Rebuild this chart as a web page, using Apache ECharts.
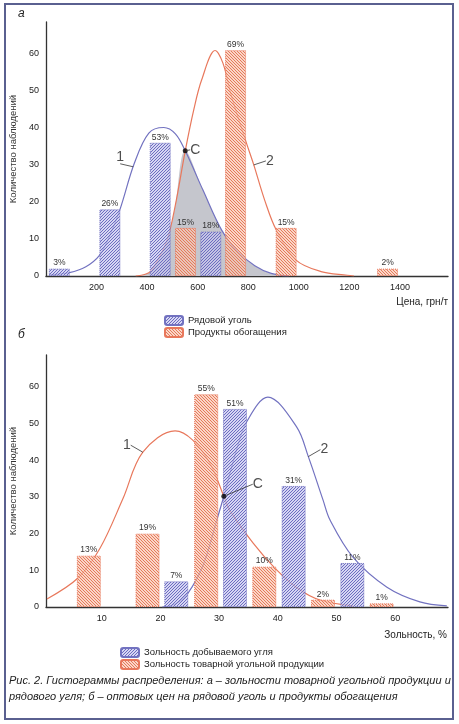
<!DOCTYPE html>
<html>
<head>
<meta charset="utf-8">
<script src="https://cdn.jsdelivr.net/npm/echarts@6/dist/echarts.min.js"></script>
<style>
html,body{margin:0;padding:0;background:#fff;}
#c{width:459px;height:724px;}
</style>
</head>
<body>
<div id="c"></div>
<script>
// ---------- DATA ----------
const countTicks = [0, 10, 20, 30, 40, 50, 60];
const priceTicks = [200, 400, 600, 800, 1000, 1200, 1400];
const ashTicks = [10, 20, 30, 40, 50, 60];

// chart a (price)
const rawPriceX = [53, 253, 452, 652];
const rawPriceCount = [2, 18, 36, 12];
const rawPricePct = ['3%', '26%', '53%', '18%'];
const prodPriceX = [552, 750, 950, 1351];
const prodPriceCount = [13, 61, 13, 2];
const prodPricePct = ['15%', '69%', '15%', '2%'];
const rawPriceCurve = [[14,0.3],[93,0.9],[158,2.5],[211,5.5],[250,10.5],[293,18],[350,30.5],[407,38.6],[466,40.1],[512,38.4],[551,33.8],[621,23.2],[695,12.4],[760,6.5],[826,2.8],[891,0.7],[960,0]];
const prodPriceCurve = [[355,0],[407,0.9],[433,3.2],[479,9.7],[510,18.5],[551,33.8],[585,45],[616,53],[669,60.9],[700,57.5],[734,48.5],[793,35.9],[822,30],[865,20.5],[911,12.4],[989,4.3],[1088,1.2],[1192,0.2],[1218,0]];
const priceCrossC = [551, 33.8];
const priceMark1 = [345, 29.5];
const priceMark2 = [822, 30];

// chart б (ash)
const ashMinedX = [22.7, 32.7, 42.7, 52.7];
const ashMinedCount = [7, 54, 33, 12];
const ashMinedPct = ['7%', '51%', '31%', '11%'];
const ashProdX = [7.8, 17.8, 27.8, 37.7, 47.7, 57.7];
const ashProdCount = [14, 20, 58, 11, 2, 1];
const ashProdPct = ['13%', '19%', '55%', '10%', '2%', '1%'];
const ashProdCurve = [[0.67,2.2],[5.95,7.9],[9.7,16],[13.6,29.5],[17.0,42.2],[22.5,48],[25.5,45.5],[28.5,39],[30.8,30.2],[31.8,26.4],[35.8,17.4],[39.5,10.6],[43.3,5.2],[47.2,1.9],[52.8,0.3]];
const ashMinedCurve = [[20.3,0],[22.5,0.8],[24.7,3.8],[27.3,11.5],[29.6,23.7],[30.8,30.2],[33,43],[34.7,50.5],[38.3,57.2],[43.2,49.1],[45.2,41],[47.7,29.2],[48.9,23.7],[52.8,13.6],[58.6,5.4],[64.2,1.4],[68.8,0.3]];
const ashCrossC = [30.8, 30.2];
const ashMark1 = [17.0, 42.2];
const ashMark2 = [45.2, 41];

// ---------- STYLE HELPERS ----------
function hatch(bg, fg, dir) {
  const c = document.createElement('canvas');
  c.width = 3; c.height = 3;
  const g = c.getContext('2d');
  g.fillStyle = bg; g.fillRect(0, 0, 3, 3);
  g.fillStyle = fg;
  for (let i = 0; i < 3; i++) g.fillRect(i, dir > 0 ? 2 - i : i, 1, 1);
  return { image: c, repeat: 'repeat' };
}
const BLUE = '#7272c0';
const RED = '#e8785c';
const blueFill = hatch('rgba(196,196,238,0.7)', '#6c6cc0', 1);
const redFill = hatch('rgba(248,196,176,0.7)', '#e57a5a', -1);
const FONT = 'Liberation Sans, Arial, sans-serif';

const overlap = prodPriceCurve.filter(p => p[0] <= priceCrossC[0]).concat(rawPriceCurve.filter(p => p[0] > priceCrossC[0]));

function barSeries(name, xs, ys, pct, xi, color, fill, bw) {
  return {
    name, type: 'bar', xAxisIndex: xi, yAxisIndex: xi, barWidth: bw, barGap: '-100%', z: 3,
    data: xs.map((x, i) => [x, ys[i]]),
    itemStyle: { color: fill, borderColor: color, borderWidth: 1, borderType: 'dotted' },
    label: { show: true, position: 'top', distance: 1, fontSize: 8.5, color: '#333', fontFamily: FONT,
      formatter: p => pct[p.dataIndex] }
  };
}
function curveSeries(name, data, xi, color) {
  return { name, type: 'line', xAxisIndex: xi, yAxisIndex: xi, data, smooth: 0.35, showSymbol: false, z: 2,
    lineStyle: { color, width: 1.2 }, silent: true };
}
function markSeries(name, pt, xi, text, dx, dy, dot) {
  return {
    name, type: 'scatter', xAxisIndex: xi, yAxisIndex: xi, data: [pt], z: 5,
    symbol: 'circle', symbolSize: dot ? 5 : 0.5, itemStyle: { color: '#000' },
    label: { show: true, position: 'inside', formatter: text, fontSize: 14, color: '#222', fontFamily: FONT },
    labelLayout: { dx, dy },
    labelLine: { show: true, lineStyle: { color: '#333', width: 0.8 } }
  };
}
function yAxis(gi, max) {
  return {
    gridIndex: gi, type: 'value', min: 0, max,
    name: 'Количество наблюдений', nameLocation: 'middle', nameGap: gi === 0 ? 20 : 23,
    nameTextStyle: { fontSize: 9.5, color: '#333', fontFamily: FONT },
    axisLine: { show: true, lineStyle: { color: '#333', width: 1.3 } },
    axisTick: { show: false },
    axisLabel: { customValues: countTicks, fontSize: 9, color: '#222', margin: 7, fontFamily: FONT, formatter: v => String(v) },
    splitLine: { show: false }
  };
}
function xAxis(gi, min, max, ticks) {
  return {
    gridIndex: gi, type: 'value', min, max,
    axisLine: { show: true, onZero: false, lineStyle: { color: '#333', width: 1.3 } },
    axisTick: { show: false },
    axisLabel: { customValues: ticks, fontSize: 9, color: '#222', margin: 7, fontFamily: FONT, formatter: v => String(v) },
    splitLine: { show: false }
  };
}
const legendText = { fontSize: 9.5, color: '#222', fontFamily: FONT, lineHeight: 11 };

const option = {
  animation: false,
  backgroundColor: '#fff',
  grid: [
    { left: 43, top: 22, width: 405, height: 254 },
    { left: 46, top: 355, width: 402, height: 252 }
  ],
  xAxis: [xAxis(0, 0, 1590, priceTicks), xAxis(1, 0.5, 69, ashTicks)],
  yAxis: [yAxis(0, 68.6), yAxis(1, 68.7)],
  legend: [
    { data: ['Рядовой уголь', 'Продукты обогащения'], orient: 'vertical', left: 164, top: 315, padding: 0,
      itemWidth: 18, itemHeight: 9, itemGap: 1, textStyle: legendText },
    { data: ['Зольность добываемого угля', 'Зольность товарной угольной продукции'], orient: 'vertical', left: 120, top: 647, padding: 0,
      itemWidth: 18, itemHeight: 9, itemGap: 1, textStyle: legendText }
  ],
  graphic: [
    { type: 'rect', shape: { x: 5, y: 4, width: 448, height: 715 }, style: { fill: 'none', stroke: '#5a6090', lineWidth: 2 } },
    { type: 'text', x: 18, y: 8, style: { text: 'а', font: 'italic 12px ' + FONT, fill: '#222' } },
    { type: 'text', x: 18, y: 329, style: { text: 'б', font: 'italic 12px ' + FONT, fill: '#222' } },
    { type: 'text', x: 448, y: 297, style: { text: 'Цена, грн/т', font: '10px ' + FONT, fill: '#222', textAlign: 'right', align: 'right' } },
    { type: 'text', x: 447, y: 630, style: { text: 'Зольность, %', font: '10px ' + FONT, fill: '#222', textAlign: 'right', align: 'right' } },
    { type: 'text', x: 9, y: 675, style: { text: 'Рис. 2. Гистограммы распределения: а – зольности товарной угольной продукции и', font: 'italic 11px ' + FONT, fill: '#222' } },
    { type: 'text', x: 9, y: 691, style: { text: 'рядового угля; б – оптовых цен на рядовой уголь и продукты обогащения', font: 'italic 11px ' + FONT, fill: '#222' } }
  ],
  series: [
    { name: 'overlap', type: 'line', xAxisIndex: 0, yAxisIndex: 0, data: overlap, smooth: 0.35, showSymbol: false, z: 1,
      lineStyle: { width: 0 }, areaStyle: { color: '#c5c6cd', opacity: 1 }, silent: true },
    curveSeries('curve-raw-price', rawPriceCurve, 0, BLUE),
    curveSeries('curve-prod-price', prodPriceCurve, 0, RED),
    barSeries('Рядовой уголь', rawPriceX, rawPriceCount, rawPricePct, 0, BLUE, blueFill, 21),
    barSeries('Продукты обогащения', prodPriceX, prodPriceCount, prodPricePct, 0, RED, redFill, 21),
    markSeries('C-a', priceCrossC, 0, 'C', 10, -1, true),
    markSeries('1-a', priceMark1, 0, '1', -13, -10, false),
    markSeries('2-a', priceMark2, 0, '2', 16, -4, false),

    curveSeries('curve-prod-ash', ashProdCurve, 1, RED),
    curveSeries('curve-mined-ash', ashMinedCurve, 1, BLUE),
    barSeries('Зольность добываемого угля', ashMinedX, ashMinedCount, ashMinedPct, 1, BLUE, blueFill, 24),
    barSeries('Зольность товарной угольной продукции', ashProdX, ashProdCount, ashProdPct, 1, RED, redFill, 24),
    markSeries('C-b', ashCrossC, 1, 'C', 34, -12, true),
    markSeries('1-b', ashMark1, 1, '1', -16, -7, false),
    markSeries('2-b', ashMark2, 1, '2', 16, -7, false)
  ]
};
echarts.init(document.getElementById('c')).setOption(option);
</script>
</body>
</html>
